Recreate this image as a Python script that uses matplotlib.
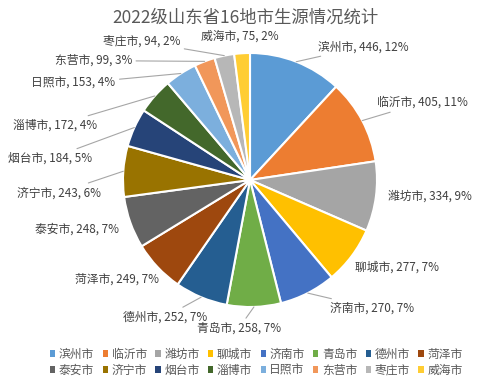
import numpy as np
import matplotlib
matplotlib.use('Agg')
import matplotlib.pyplot as plt
from matplotlib.patches import Patch

plt.rcParams['font.family'] = ['Noto Sans CJK SC', 'DejaVu Sans']

# -----------------------------
# Dados
# -----------------------------
cidades = ['滨州市', '临沂市', '潍坊市', '聊城市', '济南市', '青岛市', '德州市', '菏泽市',
           '泰安市', '济宁市', '烟台市', '淄博市', '日照市', '东营市', '枣庄市', '威海市']
alunos = [446, 405, 334, 277, 270, 258, 252, 249, 248, 243, 184, 172, 153, 99, 94, 75]
# percentuais como aparecem no gráfico original (somam 100%)
percentuais = [12, 11, 9, 7, 7, 7, 7, 7, 7, 6, 5, 4, 4, 3, 2, 2]
cores = ['#5B9BD5', '#ED7D31', '#A5A5A5', '#FFC000', '#4472C4', '#70AD47', '#255E91', '#9E480E',
         '#636363', '#997300', '#264478', '#43682B', '#7CAFDD', '#F1975A', '#B7B7B7', '#FFCD33']
titulo = '2022级山东省16地市生源情况统计'

# posição dos rótulos (x, y, alinhamento, linha guia) em unidades do raio
rotulos_pos = [
    (0.535, 1.05, 'left', True),
    (1.00, 0.61, 'left', True),
    (1.087, -0.13, 'left', False),
    (0.827, -0.69, 'left', False),
    (0.63, -1.01, 'left', True),
    (-0.09, -1.17, 'center', True),
    (-0.34, -1.08, 'right', True),
    (-0.72, -0.78, 'right', False),
    (-1.03, -0.39, 'right', False),
    (-1.17, -0.10, 'right', True),
    (-1.24, 0.17, 'right', True),
    (-1.20, 0.43, 'right', True),
    (-1.06, 0.76, 'right', True),
    (-0.93, 0.94, 'right', True),
    (-0.55, 1.09, 'right', True),
    (-0.08, 1.13, 'center', False),
]

# -----------------------------
# Gráfico
# -----------------------------
fig = plt.figure(figsize=(4.9, 3.86), dpi=100)
ax = fig.add_axes([0, 0, 1, 1])

wedges, _ = ax.pie(alunos, colors=cores, startangle=90, counterclock=False,
                   wedgeprops=dict(edgecolor='white', linewidth=1.5))

for w, nome, v, p, (lx, ly, ha, guia) in zip(wedges, cidades, alunos, percentuais, rotulos_pos):
    ang = np.deg2rad((w.theta1 + w.theta2) / 2)
    borda = (np.cos(ang), np.sin(ang))
    txt = f'{nome}, {v}, {p}%'
    props = dict(arrowstyle='-', color='#A6A6A6', lw=0.8, shrinkA=1, shrinkB=0) if guia else None
    ax.annotate(txt, xy=borda, xytext=(lx, ly), ha=ha, va='center',
                fontsize=8.5, color='#404040', arrowprops=props)

ax.set_xlim(-250 / 127, 240 / 127)
ax.set_ylim((180 - 386) / 127, 180 / 127)
ax.axis('off')

fig.text(0.5, 1 - 18 / 386, titulo, ha='center', va='center', fontsize=12.5, color='#595959')

# legenda em 2 linhas, preenchida por linha
handles = [Patch(facecolor=c, edgecolor='none') for c in cores]
ordem = [i + 8 * r for i in range(8) for r in range(2)]
fig.legend([handles[i] for i in ordem], [cidades[i] for i in ordem], ncol=8, loc='center',
           bbox_to_anchor=(0.523, 0.062), frameon=False, fontsize=8.5, labelcolor='#595959',
           handlelength=0.45, handleheight=0.45, handletextpad=0.3,
           columnspacing=0.72, labelspacing=0.25, borderpad=0)

fig.savefig('out.png', dpi=100)
